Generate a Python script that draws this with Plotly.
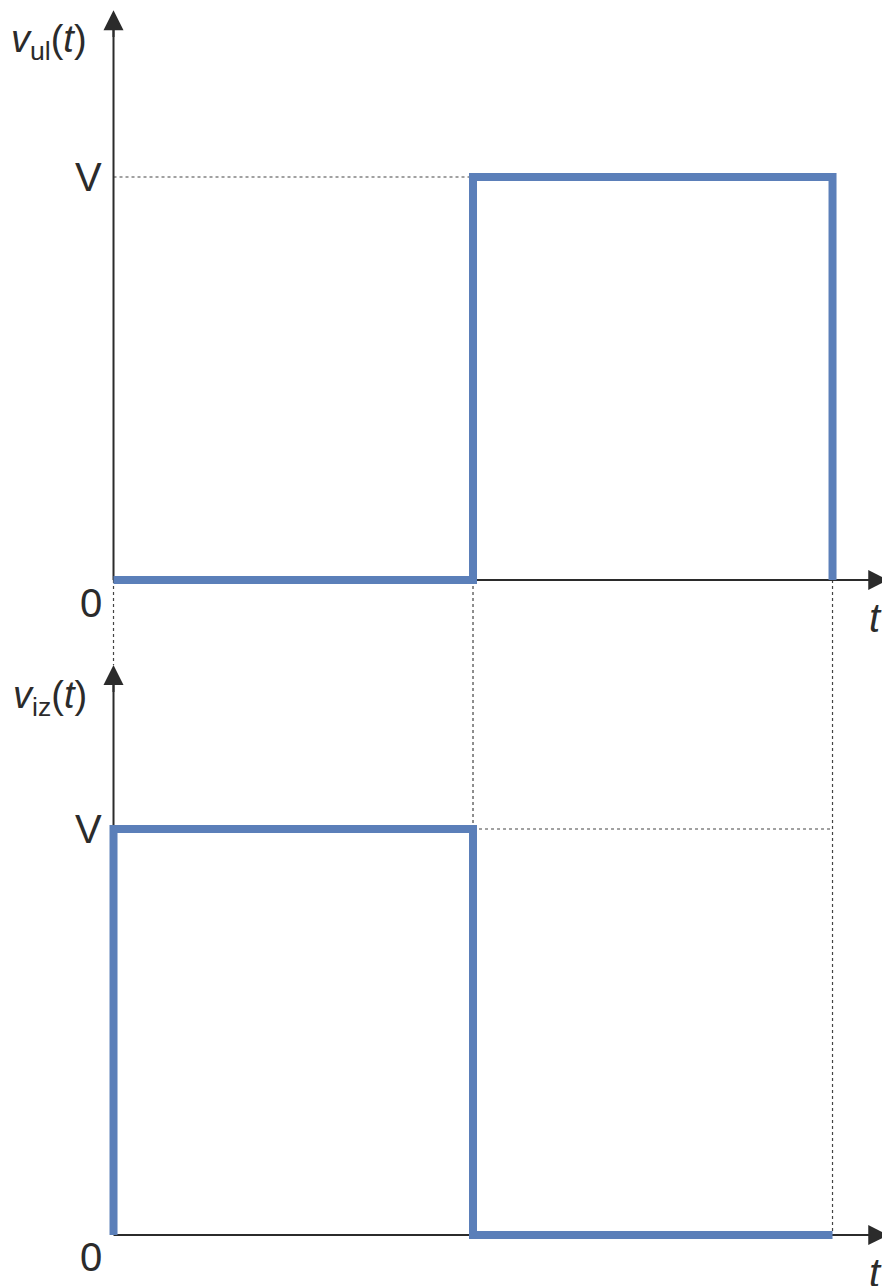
import plotly.graph_objects as go
from plotly.subplots import make_subplots

# Switching instants and level
t_switch = 1
t_end = 2
V = 1

# Input voltage v_ul(t): 0 until t_switch, V until t_end
t_ul = [0, 1, 1, 2, 2]
v_ul = [0, 0, 1, 1, 0]

# Output voltage v_iz(t): V until t_switch, 0 afterwards
t_iz = [0, 0, 1, 1, 2]
v_iz = [0, 1, 1, 0, 0]

# Axis extents (arrow tips)
x_tip = 2.155
y_tip_top = 1.414
y_tip_bot = 1.404

BLUE = "#5b7fb9"
DARK = "#2b2b2b"
GUIDE = "#444444"
FONT = "Liberation Sans, Arial, sans-serif"

W, H = 882, 1278  # page body keeps an 8px margin

fig = make_subplots(rows=2, cols=1, shared_xaxes=True, vertical_spacing=0)

fig.add_trace(
    go.Scatter(x=t_ul, y=v_ul, mode="lines",
               line=dict(color=BLUE, width=8), showlegend=False),
    row=1, col=1,
)
fig.add_trace(
    go.Scatter(x=t_iz, y=v_iz, mode="lines",
               line=dict(color=BLUE, width=8), showlegend=False),
    row=2, col=1,
)

split = (H - 632) / H
x_range = [-0.2935, 2.1599]
y_range_top = [-0.1489, 1.4194]
y_range_bot = [-0.1256, 1.4655]

fig.update_xaxes(range=x_range, visible=False, fixedrange=True)
fig.update_yaxes(range=y_range_top, visible=False, domain=[split, 1], row=1, col=1)
fig.update_yaxes(range=y_range_bot, visible=False, domain=[0, split], row=2, col=1)


def seg(x0, y0, x1, y1, yref, color, width, dash=None):
    fig.add_shape(type="line", xref="x", yref=yref, x0=x0, y0=y0, x1=x1, y1=y1,
                  line=dict(color=color, width=width, dash=dash), layer="below")


# dotted guides
seg(0, V, t_switch, V, "y", GUIDE, 1.2, "dot")
seg(t_switch, V, t_end, V, "y2", GUIDE, 1.2, "dot")
for tx in [0, t_switch, t_end]:
    seg(tx, 0, tx, y_range_top[0], "y", GUIDE, 1.2, "dot")
seg(0, y_range_bot[1], 0, y_tip_bot, "y2", GUIDE, 1.2, "dot")
seg(t_switch, y_range_bot[1], t_switch, V, "y2", GUIDE, 1.2, "dot")
seg(t_end, y_range_bot[1], t_end, 0, "y2", GUIDE, 1.2, "dot")

# axes
for yref, ytip in [("y", y_tip_top), ("y2", y_tip_bot)]:
    seg(0, 0, 0, ytip - 0.02, yref, DARK, 2)
    seg(0, 0, x_tip - 0.02, 0, yref, DARK, 2)
    for hx, hy, tx, ty in [(0, ytip, 0, ytip - 0.07), (x_tip, 0, x_tip - 0.07, 0)]:
        fig.add_annotation(x=hx, y=hy, ax=tx, ay=ty, xref="x", yref=yref,
                           axref="x", ayref=yref, text="", showarrow=True,
                           arrowhead=2, arrowsize=2.0, arrowwidth=2,
                           arrowcolor=DARK)


# labels
def label(text, x, y, yref, xanchor, xshift=0, yshift=0, size=40):
    fig.add_annotation(x=x, y=y, xref="x", yref=yref, text=text, showarrow=False,
                       xanchor=xanchor, yanchor="middle", xshift=xshift,
                       yshift=yshift, font=dict(family=FONT, size=size, color=DARK))


for yref, ytip, zshift in [("y", y_tip_top, -23), ("y2", y_tip_bot, -22)]:
    label("V", 0, V, yref, "right", xshift=-10)
    label("0", 0, 0, yref, "right", xshift=-10, yshift=zshift)
    label("<i>t</i>", x_tip, 0, yref, "right", xshift=-4, yshift=-38)

label("<i>v</i><sub>ul</sub>(<i>t</i>)", 0, y_tip_top, "y", "right",
      xshift=-25, yshift=-32, size=38)
label("<i>v</i><sub>iz</sub>(<i>t</i>)", 0, y_tip_bot, "y2", "right",
      xshift=-25, yshift=-33, size=38)

fig.update_layout(
    width=W,
    height=H,
    margin=dict(l=0, r=0, t=0, b=0),
    paper_bgcolor="white",
    plot_bgcolor="white",
    showlegend=False,
)

fig.write_html("out.html", config=dict(displayModeBar=False))
